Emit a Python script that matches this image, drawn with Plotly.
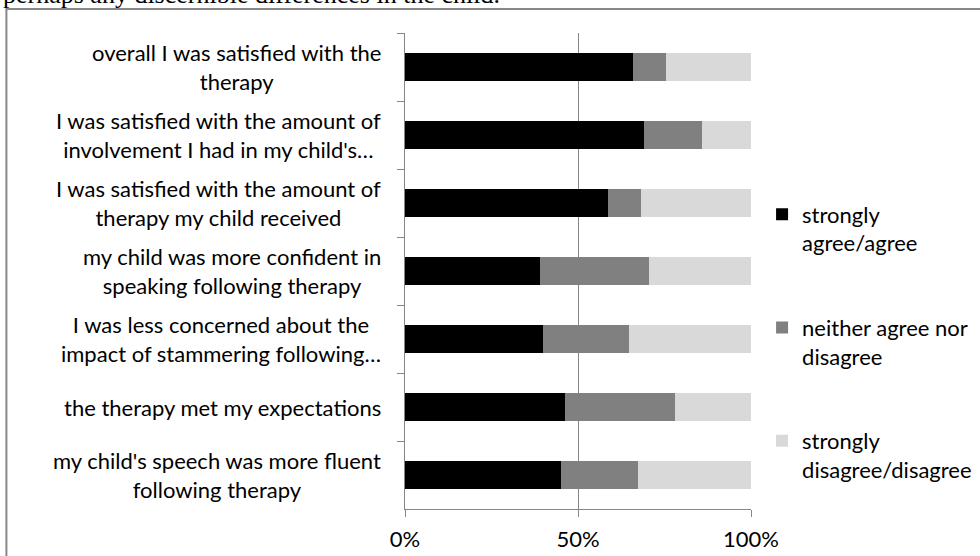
import plotly.graph_objects as go

categories = [
    "overall I was satisfied with the<br>therapy",
    "I was satisfied with the amount of<br>involvement I had in my child's…",
    "I was satisfied with the amount of<br>therapy my child received",
    "my child was more confident in<br>speaking following therapy",
    "I was less concerned about the<br>impact of stammering following…",
    "the therapy met my expectations",
    "my child's speech was more fluent<br>following therapy",
]
agree = [65.9, 69.2, 58.6, 39.0, 40.0, 46.3, 45.0]
neither = [9.6, 16.5, 9.7, 31.6, 24.8, 31.7, 22.3]
disagree = [24.5, 14.3, 31.7, 29.4, 35.2, 22.0, 32.7]
series_names = ["strongly<br>agree/agree", "neither agree nor<br>disagree", "strongly<br>disagree/disagree"]
series_colors = ["#000000", "#808080", "#d9d9d9"]
x_ticks = [0, 50, 100]
x_tick_labels = ["0%", "50%", "100%"]
heading = "perhaps any discernible differences in the child."

FONT = "Lato"
fig = go.Figure()
for name, vals, col in zip(series_names, [agree, neither, disagree], series_colors):
    fig.add_trace(go.Bar(
        y=categories, x=vals, orientation="h", name=name,
        marker=dict(color=col, line=dict(width=0)),
        legendgroup=name,
    ))

for c in categories:
    fig.add_annotation(
        x=0, xref="paper", y=c, yref="y", text=c, showarrow=False,
        xanchor="right", align="center", xshift=-22,
        font=dict(family=FONT, size=22, color="#000000"),
    )

fig.add_annotation(
    x=-1.168, xref="paper", y=1.0806, yref="paper", text=heading, showarrow=False,
    xanchor="left", yanchor="middle",
    font=dict(family="Liberation Serif", size=26, color="#000000"),
)

fig.add_shape(type="rect", xref="paper", yref="paper",
              x0=-1.152, x1=2.5, y0=-0.5, y1=1.0504,
              line=dict(color="#888888", width=2), fillcolor="rgba(0,0,0,0)", layer="below")

fig.update_layout(
    width=980, height=556,
    margin=dict(l=405, r=229, t=33, b=47, autoexpand=False),
    paper_bgcolor="white", plot_bgcolor="white",
    barmode="stack", bargap=0.574,
    font=dict(family=FONT, size=22, color="#000000"),
    showlegend=True,
    legend=dict(
        x=1.032, xanchor="left", y=0.6628, yanchor="top",
        traceorder="grouped", tracegroupgap=53, valign="top",
        font=dict(family=FONT, size=22, color="#000000"),
        bgcolor="rgba(0,0,0,0)",
    ),
    xaxis=dict(
        range=[0, 100], tickvals=x_ticks, ticktext=x_tick_labels,
        showgrid=True, gridcolor="#868686", gridwidth=1,
        showline=True, linecolor="#868686", linewidth=1,
        ticks="outside", ticklen=7, tickcolor="#868686",
        ticklabelstandoff=4, zeroline=False, automargin=False,
        tickfont=dict(family=FONT, size=22, color="#000000"),
    ),
    yaxis=dict(
        autorange="reversed", showticklabels=False, automargin=False,
        showline=True, linecolor="#868686", linewidth=1,
        ticks="outside", ticklen=7, tickcolor="#868686", tickson="boundaries",
        showgrid=False,
    ),
)

fig.write_html("out.html")
